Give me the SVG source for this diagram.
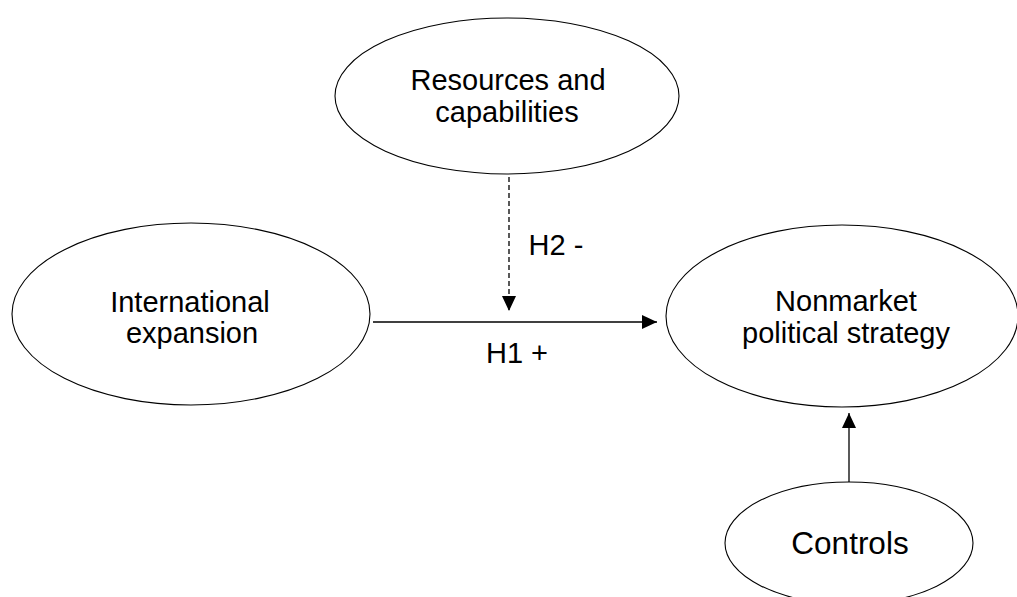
<svg xmlns="http://www.w3.org/2000/svg" width="1017" height="597" viewBox="0 0 1017 597">
<style>
.node ellipse{fill:#fff;stroke:#000;stroke-width:1.1}
.lbl{font-family:"Liberation Sans",Arial,sans-serif;font-size:29px;fill:#000;text-anchor:middle}
.big{font-size:31.5px}
.conn line{stroke:#000;stroke-width:1.3;fill:none}
.dash{stroke-dasharray:5 3}
</style>
<defs>
<marker id="ah" viewBox="0 0 15 14" refX="15" refY="7" markerWidth="15" markerHeight="14" markerUnits="userSpaceOnUse" orient="auto">
<path d="M0,0 L15,7 L0,14 Z" fill="#000"/>
</marker>
</defs>
<rect width="1017" height="597" fill="#fff"/>
<g id="resources" class="node">
<ellipse cx="507" cy="96" rx="172" ry="78"/>
<text class="lbl" x="508" y="90">Resources and</text>
<text class="lbl" x="507" y="122">capabilities</text>
</g>
<g id="international" class="node">
<ellipse cx="191" cy="314" rx="179" ry="91"/>
<text class="lbl" x="190" y="312">International</text>
<text class="lbl" x="192" y="343">expansion</text>
</g>
<g id="nonmarket" class="node">
<ellipse cx="842" cy="316" rx="176" ry="91"/>
<text class="lbl" x="846" y="311">Nonmarket</text>
<text class="lbl" x="846" y="343">political strategy</text>
</g>
<g id="controls" class="node">
<ellipse cx="849" cy="543" rx="124" ry="61"/>
<text class="lbl big" x="850" y="554">Controls</text>
</g>
<g id="connectors" class="conn">
<line x1="373" y1="322" x2="657" y2="322" marker-end="url(#ah)"/>
<line class="dash" x1="509" y1="177" x2="509" y2="311" marker-end="url(#ah)"/>
<line x1="849" y1="482" x2="849" y2="413" marker-end="url(#ah)"/>
<text class="lbl" x="517" y="363">H1 +</text>
<text class="lbl" x="556" y="255">H2 -</text>
</g>
</svg>
